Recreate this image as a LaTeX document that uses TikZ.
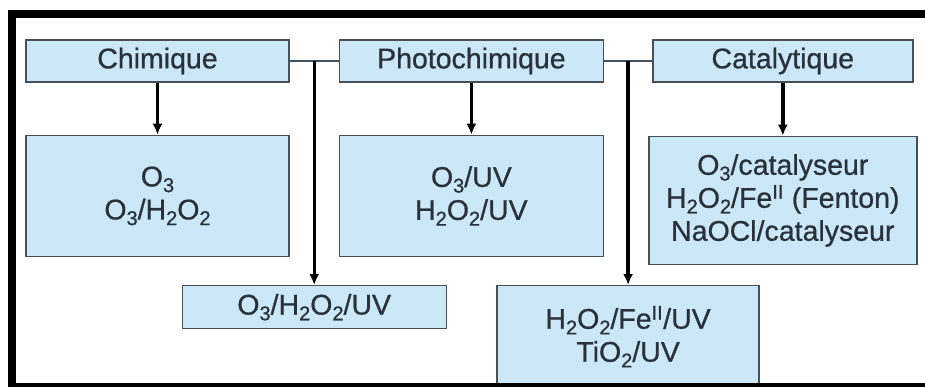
\documentclass[tikz,border=0pt]{standalone}
\usepackage{fontspec}
\setmainfont[FakeBold=0.7]{Liberation Sans}
\usepackage{xcolor}
\usetikzlibrary{positioning,arrows.meta,calc}

\definecolor{boxfill}{RGB}{204,231,247}
\definecolor{boxline}{RGB}{70,80,88}
\definecolor{boxtext}{RGB}{38,50,60}

% chemical indices, a little larger and lower than \textsubscript
\newcommand{\ind}[1]{\raisebox{-0.2em}{\fontsize{20}{20}\selectfont #1}}

\begin{document}
\begin{tikzpicture}[
    x=1pt, y=-1pt,
    box/.style={rectangle, draw=boxline, line width=1.4pt, fill=boxfill, text=boxtext,
                align=center, inner sep=0pt, font=\fontsize{28.5}{33}\selectfont},
    head/.style={box, minimum height=42pt},
    arr/.style={-{Latex[length=11pt,width=10pt]}, line width=3.4pt, black},
    link/.style={line width=1.1pt, boxline},
    node distance=52pt and 49pt
]
% ============================================================
% frame and page size
% ============================================================
\useasboundingbox[fill=white] (0,0) rectangle (925,387);

% ============================================================
% top row
% ============================================================
\node[head, minimum width=263pt] (chim) at (157.5,61) {Chimique};
\node[head, minimum width=264pt, right=of chim]       (photo) {Photochimique};
\node[head, minimum width=260pt, right=48pt of photo] (cata)  {Catalytique};

\coordinate (jA) at ($(chim.east)!0.5!(photo.west)$);
\coordinate (jB) at ($(photo.east)!0.5!(cata.west)$);

% ============================================================
% second row
% ============================================================
\node[box, minimum width=263pt, minimum height=121pt, below=of chim]  (ozone)
    {O\ind{3}\\O\ind{3}/H\ind{2}O\ind{2}};
\node[box, minimum width=264pt, minimum height=121pt, below=of photo] (ozuv)
    {O\ind{3}/UV\\H\ind{2}O\ind{2}/UV};
\node[box, minimum width=268pt, minimum height=128pt, below=53pt of cata] (catbox)
    {O\ind{3}/catalyseur\\H\ind{2}O\ind{2}/Fe\textsuperscript{II} (Fenton)\\NaOCl/catalyseur};

% ============================================================
% bottom row
% ============================================================
\node[box, minimum width=264pt, minimum height=43pt, below=224pt of jA] (mix)
    {O\ind{3}/H\ind{2}O\ind{2}/UV};
\node[box, minimum width=262pt, minimum height=102pt, below=224pt of jB] (fenuv)
    {H\ind{2}O\ind{2}/Fe\textsuperscript{II}/UV\\TiO\ind{2}/UV};

% connectors
\draw[link] (chim.east) -- (photo.west);
\draw[link] (photo.east) -- (cata.west);
\draw[arr] (chim) -- (ozone);
\draw[arr] (photo) -- (ozuv);
\draw[arr] (cata) -- (catbox);
\draw[arr] (jA) -- (jA |- mix.north);
\draw[arr] (jB) -- (jB |- fenuv.north);

% black frame
\fill[black] (8,10) rectangle (925,18);
\fill[black] (8,10) rectangle (16,387);
\fill[black] (8,383) rectangle (925,387);

\end{tikzpicture}
\end{document}
